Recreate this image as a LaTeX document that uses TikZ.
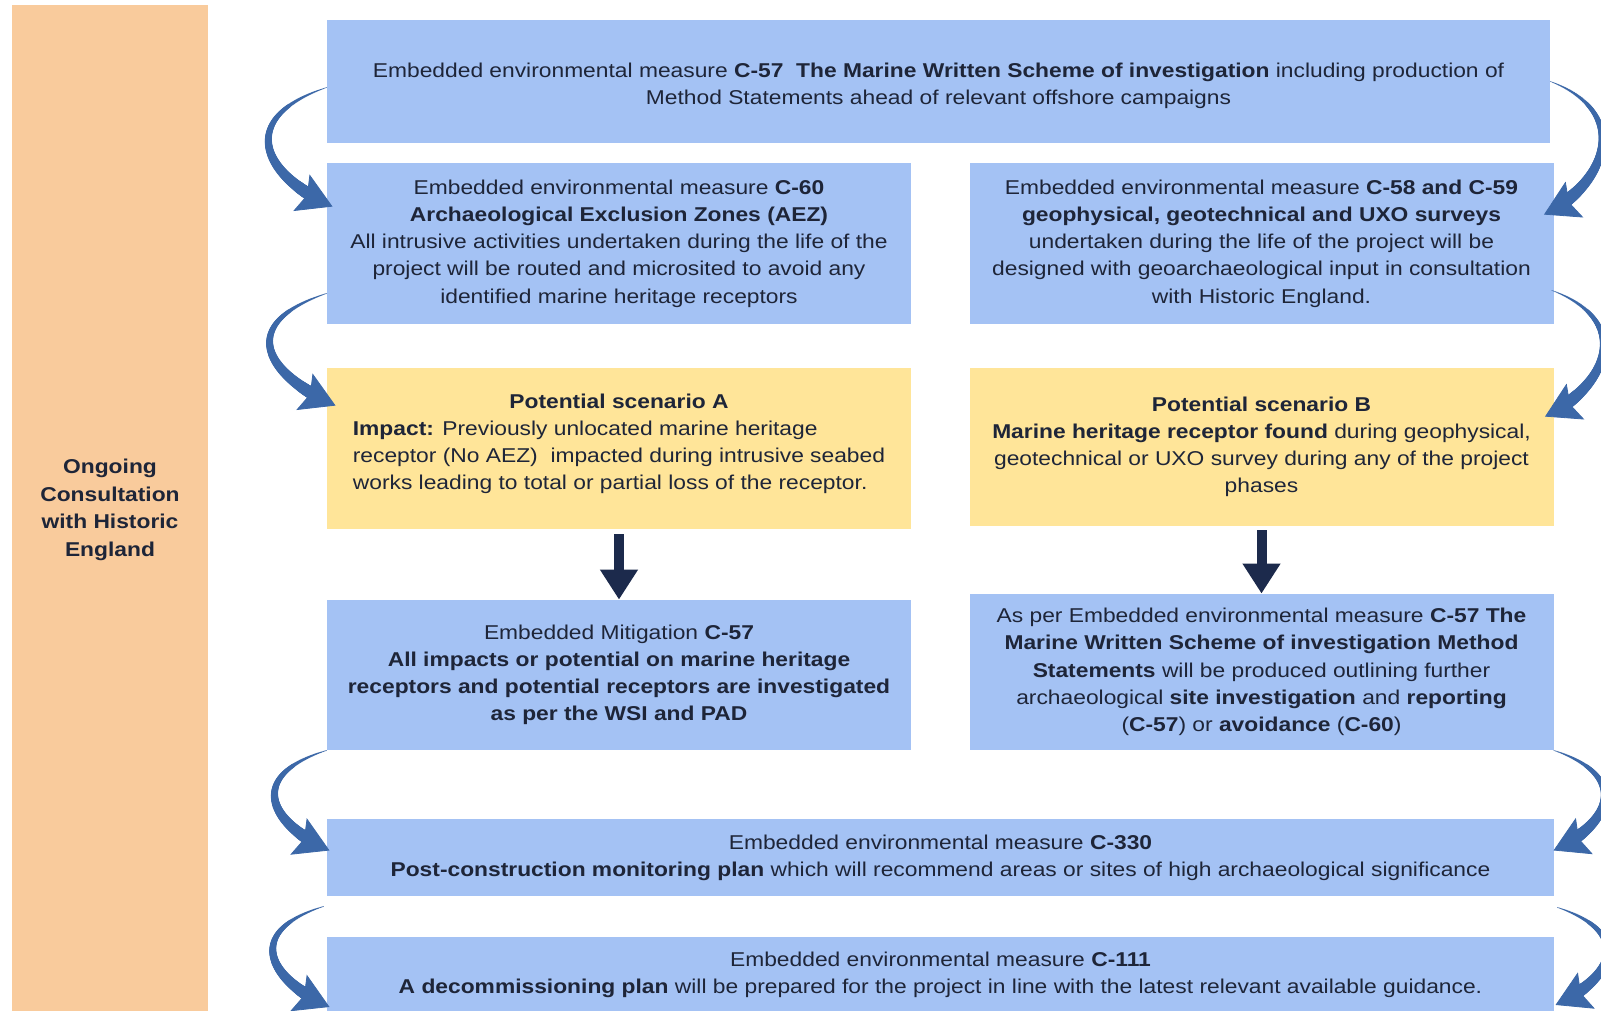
\documentclass[tikz,border=0pt]{standalone}
\usepackage{fontspec}
\setmainfont[FakeStretch=1.14]{Liberation Sans}
\usetikzlibrary{arrows.meta,decorations.markings}
\definecolor{boxblue}{HTML}{A4C2F4}
\definecolor{boxyellow}{HTML}{FFE599}
\definecolor{sidebar}{HTML}{F9CB9C}
\definecolor{swooshblue}{HTML}{3C68A8}
\definecolor{navy}{HTML}{1C2A4C}
\definecolor{ink}{HTML}{1E2538}

\begin{document}
\begin{tikzpicture}[x=0.5pt,y=-0.5pt,
  every node/.style={font=\fontsize{10}{13.6}\selectfont, text=ink, inner sep=0pt, align=center},
  bluebox/.style={fill=boxblue},
  yellowbox/.style={fill=boxyellow},
  half/.style={minimum width=292pt},
  wide/.style={minimum width=613.5pt},
  down/.style={draw=navy, line width=5pt, -{Triangle[length=15pt,width=18pt]}},
  swoosh/.style={postaction={decorate}, decoration={markings,
    mark=between positions 0 and 0.86 step 0.4pt with {
      \pgfmathsetmacro\swr{0.2+3.4*\pgfkeysvalueof{/pgf/decoration/mark info/distance from start}/\pgfdecoratedpathlength}
      \fill[swooshblue] (0,0) circle[radius=\swr pt];},
    mark=at position 1 with {\arrow[swooshblue]{Stealth[length=17pt,width=20pt,inset=3pt]}}}}]
\useasboundingbox (0,0) rectangle (1601,1011);
\fill[white] (0,0) rectangle (1601,1011);

% consultation bar
\node[fill=sidebar, minimum width=98pt, minimum height=505pt, font=\fontsize{10}{13.8}\selectfont\bfseries] (side) at (110,510)
  {Ongoing\\Consultation\\with Historic\\England};

% boxes
\node[bluebox, minimum width=611.5pt, minimum height=61.5pt] (top) at (938.5,81.5)
  {\raisebox{-2pt}[\height][\depth]{\begin{tabular}{@{}c@{}}Embedded environmental measure \textbf{C-57\ \ The Marine Written Scheme of investigation} including production of\\
   Method Statements ahead of relevant offshore campaigns\end{tabular}}};
\node[bluebox, half, minimum height=80.5pt] (aez) at (619,243.5)
  {Embedded environmental measure \textbf{C-60}\\
   \textbf{Archaeological Exclusion Zones (AEZ)}\\
   All intrusive activities undertaken during the life of the\\
   project will be routed and microsited to avoid any\\
   identified marine heritage receptors};
\node[bluebox, half, minimum height=80.5pt] (survey) at (1261.5,243.5)
  {Embedded environmental measure \textbf{C-58 and C-59}\\
   \textbf{geophysical, geotechnical and UXO surveys}\\
   undertaken during the life of the project will be\\
   designed with geoarchaeological input in consultation\\
   with Historic England.};
\node[yellowbox, half, minimum height=80.5pt] (scenA) at (619,448.5)
  {\raisebox{2.5pt}[\height][\depth]{\begin{tabular}{@{}l@{}}
   \multicolumn{1}{@{}c@{}}{\textbf{Potential scenario A}}\\
   \textbf{Impact:} Previously unlocated marine heritage\\
   receptor (No AEZ)\ \ impacted during intrusive seabed\\
   works leading to total or partial loss of the receptor.
   \end{tabular}}};
\node[yellowbox, half, minimum height=79pt] (scenB) at (1261.5,447)
  {\textbf{Potential scenario B}\\
   \textbf{Marine heritage receptor found} during geophysical,\\
   geotechnical or UXO survey during any of the project\\
   phases};
\node[bluebox, half, minimum height=75pt] (mitig) at (619,675)
  {Embedded Mitigation \textbf{C-57}\\
   \textbf{All impacts or potential on marine heritage}\\
   \textbf{receptors and potential receptors are investigated}\\
   \textbf{as per the WSI and PAD}};
\node[bluebox, half, minimum height=78pt] (wsi) at (1261.5,672)
  {As per Embedded environmental measure \textbf{C-57\ The}\\
   \textbf{Marine Written\ Scheme of investigation Method}\\
   \textbf{Statements} will be produced outlining further\\
   archaeological \textbf{site investigation} and \textbf{reporting}\\
   (\textbf{C-57}) or \textbf{avoidance} (\textbf{C-60})};
\node[bluebox, wide, minimum height=38.5pt] (monitor) at (940.5,857.5)
  {Embedded environmental measure \textbf{C-330}\\
   \textbf{Post-construction monitoring plan} which will recommend areas or sites of high archaeological significance};
\node[bluebox, wide, minimum height=38pt] (decom) at (940.5,975)
  {Embedded environmental measure \textbf{C-111}\\
   \textbf{A decommissioning plan} will be prepared for the project in line with the latest relevant available guidance.};

% straight arrows
\draw[down] ([yshift=-2.5pt]scenA.south) -- (mitig.north);
\draw[down] ([yshift=-2pt]scenB.south) -- (wsi.north);

% curved arrows, left side
\path[swoosh] ([yshift=-3pt]top.west) .. controls +(-90,30) and +(-72,-32) .. ([shift={(6,44)}]aez.north west);
\path[swoosh] ([shift={(0,-31)}]aez.south west) .. controls +(-90,30) and +(-72,-32) .. ([shift={(9,38)}]scenA.north west);
\path[swoosh] (mitig.south west) .. controls +(-80,25) and +(-62,-28) .. ([shift={(3,-7)}]monitor.west);
\path[swoosh] ([shift={(-3,10)}]monitor.south west) .. controls +(-80,25) and +(-62,-28) .. ([shift={(3,32)}]decom.west);
% curved arrows, right side
\path[swoosh] (top.east) .. controls +(80,30) and +(65,-32) .. ([shift={(-10,52)}]survey.north east);
\path[swoosh] ([shift={(-2,-34)}]survey.south east) .. controls +(80,30) and +(65,-32) .. ([shift={(-9,49)}]scenB.north east);
\path[swoosh] (wsi.south east) .. controls +(75,25) and +(60,-28) .. ([shift={(-1,-7)}]monitor.east);
\path[swoosh] ([shift={(3,11)}]monitor.south east) .. controls +(75,25) and +(60,-28) .. ([shift={(1,30)}]decom.east);
\end{tikzpicture}
\end{document}
